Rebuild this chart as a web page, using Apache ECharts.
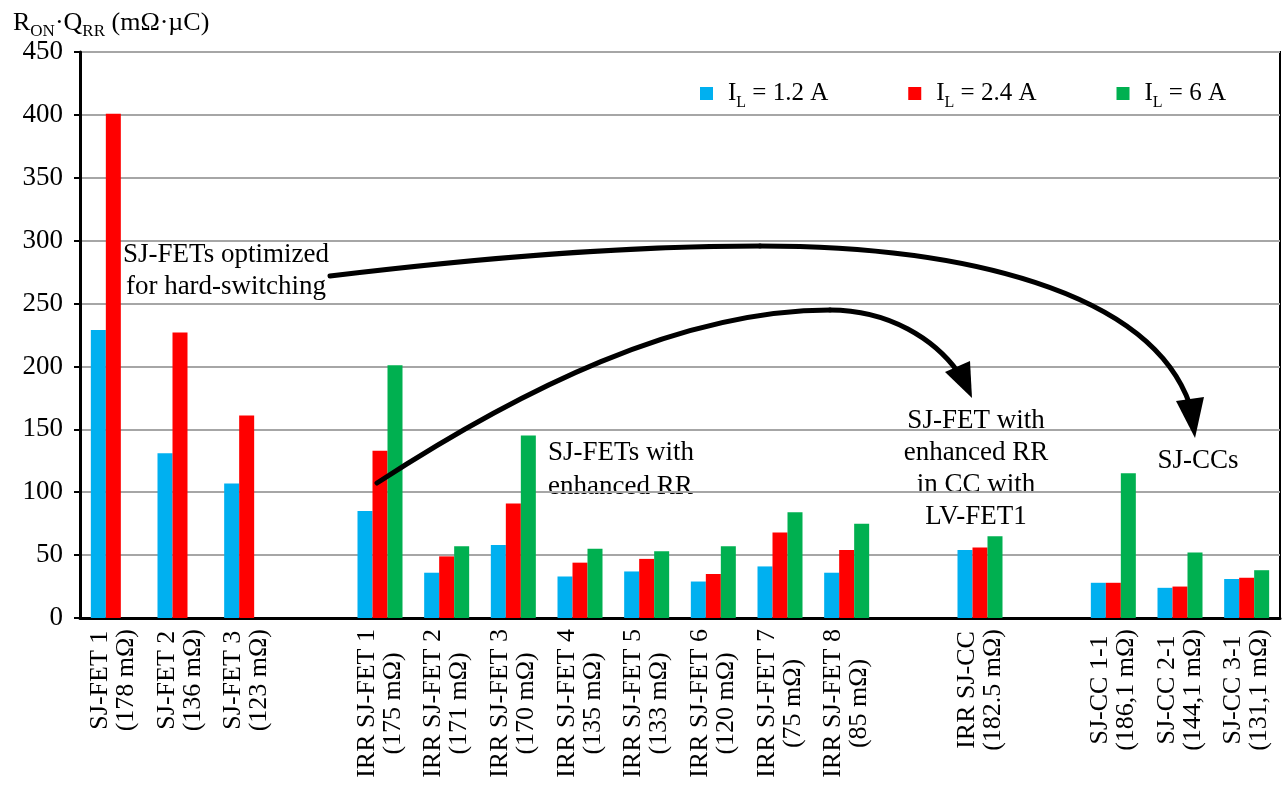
<!DOCTYPE html>
<html>
<head>
<meta charset="utf-8">
<script src="https://cdn.jsdelivr.net/npm/echarts@6/dist/echarts.min.js"></script>
<style>
  html, body { margin: 0; padding: 0; background: #ffffff; }
  #chart { width: 1283px; height: 790px; }
</style>
</head>
<body>
<div id="chart"></div>
<script>
// Devices (empty strings are spacer slots between device groups)
const devices = [
  'SJ-FET 1\n(178 mΩ)', 'SJ-FET 2\n(136 mΩ)', 'SJ-FET 3\n(123 mΩ)', '',
  'IRR SJ-FET 1\n(175 mΩ)', 'IRR SJ-FET 2\n(171 mΩ)', 'IRR SJ-FET 3\n(170 mΩ)', 'IRR SJ-FET 4\n(135 mΩ)',
  'IRR SJ-FET 5\n(133 mΩ)', 'IRR SJ-FET 6\n(120 mΩ)', 'IRR SJ-FET 7\n(75 mΩ)', 'IRR SJ-FET 8\n(85 mΩ)', '',
  'IRR SJ-CC\n(182.5 mΩ)', '',
  'SJ-CC 1-1\n(186,1 mΩ)', 'SJ-CC 2-1\n(144,1 mΩ)', 'SJ-CC 3-1\n(131,1 mΩ)'
];

// Load currents of the three measurement series
const loadCurrents = ['1.2', '2.4', '6'];

// RON·QRR figure of merit (mΩ·µC) per device and load current
const fomAt1p2A = [229, 131, 107, null, 85, 36, 58, 33, 37, 29, 41, 36, null, 54, null, 28, 24, 31];
const fomAt2p4A = [401, 227, 161, null, 133, 49, 91, 44, 47, 35, 68, 54, null, 56, null, 28, 25, 32];
const fomAt6A   = [null, null, null, null, 201, 57, 145, 55, 53, 57, 84, 75, null, 65, null, 115, 52, 38];

// Y axis ticks
const yTicks = { min: 0, max: 450, step: 50 };

const seriesColors = ['#00b0f0', '#ff0000', '#00b050'];
const SERIF = '"Liberation Serif", "Times New Roman", serif';

const seriesNames = loadCurrents.map(c => 'IL = ' + c + ' A');
const seriesData = [fomAt1p2A, fomAt2p4A, fomAt6A];

const chart = echarts.init(document.getElementById('chart'), null, { renderer: 'canvas' });

// one cubic segment of an annotation arrow
function curve(p0, c1, c2, p1) {
  return {
    type: 'bezierCurve', z: 100,
    shape: { x1: p0[0], y1: p0[1], cpx1: c1[0], cpy1: c1[1], cpx2: c2[0], cpy2: c2[1], x2: p1[0], y2: p1[1] },
    style: { stroke: '#000', lineWidth: 5, fill: null, lineCap: 'round' }
  };
}
function head(points) {
  return { type: 'polygon', z: 100, shape: { points: points }, style: { fill: '#000' } };
}

const option = {
  animation: false,
  backgroundColor: '#ffffff',
  grid: {
    left: 80, right: 3, top: 52, bottom: 172,
    show: true, borderColor: '#000', borderWidth: 2, backgroundColor: 'transparent'
  },
  legend: {
    data: seriesNames,
    left: 700, top: 81, padding: 0,
    icon: 'rect', itemWidth: 13, itemHeight: 13, itemGap: 80,
    selectedMode: false,
    formatter: name => '{f|I}{s|L}{m| = ' + name.slice(5) + '}',
    textStyle: {
      color: '#000',
      rich: {
        f: { fontFamily: SERIF, fontSize: 25, lineHeight: 34, padding: [0, 0, 0, 10], color: '#000' },
        s: { fontFamily: SERIF, fontSize: 16, lineHeight: 16, verticalAlign: 'bottom', color: '#000' },
        m: { fontFamily: SERIF, fontSize: 25, lineHeight: 34, color: '#000' }
      }
    }
  },
  xAxis: {
    type: 'category',
    data: devices,
    axisLine: { lineStyle: { color: '#000', width: 3 } },
    axisTick: { show: false },
    axisLabel: {
      interval: 0, rotate: 90, margin: 11,
      formatter: v => v ? v.split('\n').map(l => '{c|' + l + '}').join('\n') : '',
      rich: { c: { fontFamily: SERIF, fontSize: 26, lineHeight: 26, align: 'center', color: '#000' } }
    },
    splitLine: { show: false }
  },
  yAxis: {
    type: 'value',
    min: yTicks.min, max: yTicks.max, interval: yTicks.step,
    axisLine: { show: true, lineStyle: { color: '#000', width: 3 } },
    axisTick: { show: true, length: 6, lineStyle: { color: '#000', width: 2 } },
    axisLabel: { color: '#000', fontFamily: SERIF, fontSize: 27, margin: 17 },
    splitLine: { lineStyle: { color: '#a6a6a6', width: 2 } }
  },
  series: seriesNames.map((name, i) => ({
    name: name,
    type: 'bar',
    data: seriesData[i],
    barWidth: 15,
    barGap: '0%',
    itemStyle: { color: seriesColors[i] }
  })),
  graphic: [
    // y axis title with subscripts
    {
      type: 'text', x: 13, y: 6,
      style: {
        text: '{m|R}{s|ON}{m|·Q}{s|RR}{m| (mΩ·µC)}',
        rich: {
          m: { fontFamily: SERIF, fontSize: 26, lineHeight: 34, fill: '#000' },
          s: { fontFamily: SERIF, fontSize: 17, lineHeight: 17, verticalAlign: 'bottom', fill: '#000' }
        }
      }
    },
    // annotation texts
    {
      type: 'text', x: 226, y: 271,
      style: { text: 'SJ-FETs optimized\nfor hard-switching', fontFamily: SERIF, fontSize: 27, lineHeight: 32,
               align: 'center', verticalAlign: 'middle', fill: '#000' }
    },
    {
      type: 'text', x: 548, y: 470,
      style: { text: 'SJ-FETs with\nenhanced RR', fontFamily: SERIF, fontSize: 27, lineHeight: 34,
               align: 'left', verticalAlign: 'middle', fill: '#000' }
    },
    {
      type: 'text', x: 976, y: 469,
      style: { text: 'SJ-FET with\nenhanced RR\nin CC with\nLV-FET1', fontFamily: SERIF, fontSize: 27, lineHeight: 32,
               align: 'center', verticalAlign: 'middle', fill: '#000' }
    },
    {
      type: 'text', x: 1198, y: 461,
      style: { text: 'SJ-CCs', fontFamily: SERIF, fontSize: 27, align: 'center', verticalAlign: 'middle', fill: '#000' }
    },
    // arrow: hard-switching SJ-FETs -> SJ-CCs
    curve([330, 276], [480, 258], [620, 246], [760, 246]),
    curve([760, 246], [960, 246], [1150, 290], [1190, 405]),
    head([[1176, 401], [1204, 397], [1195, 438]]),
    // arrow: enhanced-RR SJ-FET -> its cascode
    curve([377, 483], [520, 390], [680, 310], [830, 310]),
    curve([830, 310], [890, 310], [935, 340], [958, 372]),
    head([[945, 372], [970, 361], [972, 398]])
  ]
};

chart.setOption(option);
</script>
</body>
</html>
